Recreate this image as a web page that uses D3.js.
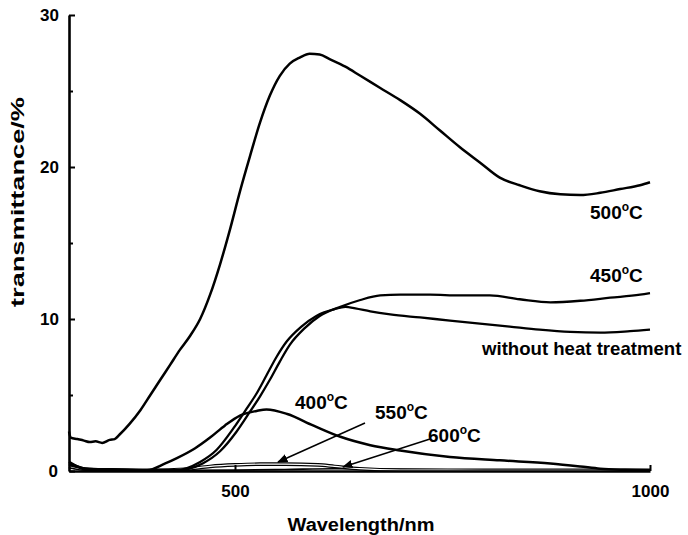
<!DOCTYPE html>
<html>
<head>
<meta charset="utf-8">
<script src="https://cdn.jsdelivr.net/npm/d3@7"></script>
<style>
  html, body { margin: 0; padding: 0; background: #fff; }
  svg { display: block; }
  text { font-family: "Liberation Sans", Arial, sans-serif; fill: #000; }
</style>
</head>
<body>
<svg id="chart" width="688" height="535"></svg>
<script>
// Transmittance spectra (wavelength in nm, transmittance in %)
const s500 = [[300,2.6],[302,2.2],[310,2.1],[318,2.0],[325,1.9],[332,1.95],[340,1.85],[349,2.05],[355,2.1],[361,2.4],[373,3.1],[386,4.0],[398,5.0],[410,6.0],[422,7.0],[434,8.0],[446,8.9],[458,10.0],[470,11.6],[482,13.6],[494,15.9],[506,18.4],[518,20.7],[530,22.9],[542,24.7],[554,26.0],[566,26.8],[578,27.2],[590,27.45],[602,27.4],[614,27.1],[633,26.6],[651,26.0],[675,25.2],[699,24.4],[723,23.5],[747,22.4],[771,21.3],[795,20.3],[819,19.3],[843,18.8],[867,18.4],[892,18.2],[916,18.15],[940,18.3],[964,18.55],[988,18.8],[1000,19.0]];
const s450 = [[300,0.5],[310,0.3],[320,0.15],[350,0.1],[400,0.05],[430,0.05],[461,0.5],[482,1.3],[502,2.6],[518,3.9],[530,4.9],[542,6.0],[554,7.2],[566,8.3],[584,9.4],[602,10.2],[627,10.8],[651,11.25],[675,11.55],[699,11.6],[735,11.6],[771,11.55],[807,11.55],[843,11.3],[880,11.1],[916,11.2],[952,11.4],[988,11.6],[1000,11.7]];
const sNone = [[300,0.4],[310,0.25],[320,0.1],[350,0.08],[400,0.05],[428,0.05],[458,0.6],[478,1.4],[498,2.8],[514,4.1],[526,5.1],[538,6.3],[550,7.5],[562,8.5],[580,9.5],[598,10.2],[620,10.65],[633,10.8],[645,10.7],[663,10.5],[687,10.3],[723,10.1],[759,9.9],[795,9.7],[831,9.5],[867,9.3],[904,9.15],[940,9.1],[976,9.2],[1000,9.3]];
const s400 = [[300,0.6],[310,0.3],[320,0.15],[350,0.08],[380,0.05],[394,0.05],[416,0.5],[430,0.85],[452,1.5],[470,2.2],[488,3.0],[506,3.65],[526,3.95],[538,4.05],[563,3.75],[594,3.0],[627,2.25],[663,1.7],[699,1.35],[759,0.92],[819,0.7],[880,0.5],[916,0.3],[940,0.15],[970,0.08],[1000,0.05]];
const s550 = [[300,0.3],[320,0.12],[350,0.08],[400,0.05],[440,0.12],[470,0.3],[500,0.4],[530,0.45],[560,0.45],[600,0.4],[620,0.3],[650,0.15],[700,0.06],[800,0.05],[900,0.05],[1000,0.05]];
const s600 = [[300,0.2],[320,0.08],[400,0.04],[500,0.06],[560,0.1],[620,0.15],[680,0.12],[760,0.08],[850,0.06],[1000,0.05]];

const yTicks = [0, 10, 20, 30];
const yMinor = [5, 15, 25];
const xTicks = [500, 1000];

const svg = d3.select("#chart");
const x = d3.scaleLinear().domain([300, 1000]).range([69, 650]);
const y = d3.scaleLinear().domain([0, 30]).range([471, 15]);

const line = d3.line().x(d => x(d[0])).y(d => y(d[1])).curve(d3.curveMonotoneX);

// Curves
const plot = svg.append("g");
function curve(data, w, color) {
  plot.append("path").datum(data).attr("d", line)
    .attr("fill", "none").attr("stroke", color || "#000").attr("stroke-width", w)
    .attr("stroke-linejoin", "round");
}
curve(s600, 1.6);
curve(s550, 3.6);
curve(s550, 1.2, "#fff");
curve(s400, 2.5);
curve(sNone, 2.3);
curve(s450, 2.3);
curve(s500, 2.5);

// Axes with inward ticks
const gy = svg.append("g").attr("transform", `translate(${x(300)},0)`)
  .call(d3.axisLeft(y).tickValues(yTicks).tickSizeInner(-6).tickSizeOuter(0).tickPadding(10).tickFormat(d3.format("d")));
gy.selectAll(".tick").filter(d => d === 0).select("text").remove();
svg.append("g").attr("transform", `translate(${x(300)},0)`)
  .call(d3.axisLeft(y).tickValues(yMinor).tickSizeInner(-4).tickSizeOuter(0).tickFormat(""))
  .select(".domain").remove();
const gx = svg.append("g").attr("transform", `translate(0,${y(0)})`)
  .call(d3.axisBottom(x).tickValues(xTicks).tickSizeInner(-6).tickSizeOuter(0).tickPadding(14).tickFormat(d3.format("d")));

[gy, gx].forEach(g => {
  g.select(".domain").attr("stroke", "#000").attr("stroke-width", 2.6);
  g.selectAll(".tick text").attr("font-size", 17).attr("font-weight", "bold")
    .attr("font-family", "Liberation Sans, Arial, sans-serif");
});
svg.selectAll(".tick line").attr("stroke", "#000").attr("stroke-width", 2);
// origin label sits low-left of the corner
svg.append("text").attr("x", x(300) - 11).attr("y", y(0) + 6)
  .attr("text-anchor", "end").attr("font-size", 17).attr("font-weight", "bold").text("0");

// Axis titles
svg.append("text").attr("x", 361).attr("y", 531).attr("text-anchor", "middle")
  .attr("font-size", 18).attr("font-weight", "bold")
  .attr("textLength", 147).attr("lengthAdjust", "spacingAndGlyphs").text("Wavelength/nm");
svg.append("text").attr("transform", "translate(24,202) rotate(-90)").attr("text-anchor", "middle")
  .attr("font-size", 18).attr("font-weight", "bold")
  .attr("textLength", 210).attr("lengthAdjust", "spacingAndGlyphs").text("transmittance/%");

// Curve labels with superscript degree mark
function tempLabel(px, py, num) {
  const t = svg.append("text").attr("x", px).attr("y", py)
    .attr("font-size", 19).attr("font-weight", "bold");
  t.append("tspan").text(num);
  t.append("tspan").attr("dy", -8).attr("font-size", 12).text("o");
  t.append("tspan").attr("dy", 8).text("C");
}
tempLabel(590, 219, "500");
tempLabel(590, 282, "450");
tempLabel(295, 409, "400");
tempLabel(375, 419, "550");
tempLabel(428, 442, "600");
svg.append("text").attr("x", 482).attr("y", 355).attr("font-size", 18.6).attr("font-weight", "bold")
  .text("without heat treatment");

// Leader arrows
svg.append("defs").append("marker").attr("id", "arr")
  .attr("viewBox", "0 0 10 10").attr("refX", 9).attr("refY", 5)
  .attr("markerWidth", 7).attr("markerHeight", 7).attr("orient", "auto")
  .append("path").attr("d", "M0,1 L10,5 L0,9 Z").attr("fill", "#000");
const leaders = [
  { from: [365, 423], to: [278, 462] },
  { from: [430, 439], to: [343, 467] }
];
svg.selectAll("line.leader").data(leaders).enter().append("line")
  .attr("class", "leader")
  .attr("x1", d => d.from[0]).attr("y1", d => d.from[1])
  .attr("x2", d => d.to[0]).attr("y2", d => d.to[1])
  .attr("stroke", "#000").attr("stroke-width", 1.5).attr("marker-end", "url(#arr)");
</script>
</body>
</html>
